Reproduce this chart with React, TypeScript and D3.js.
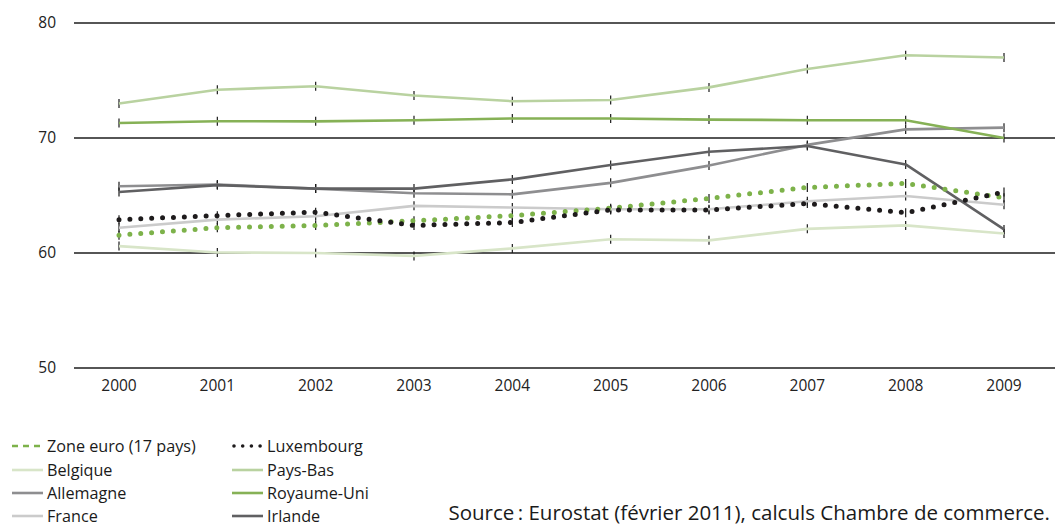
import { useEffect, useRef } from "react";
import * as d3 from "d3";

const years = ["2000", "2001", "2002", "2003", "2004", "2005", "2006", "2007", "2008", "2009"];
const yTicks = [50, 60, 70, 80];

const zoneEuro = [61.55, 62.2, 62.4, 62.8, 63.25, 63.9, 64.75, 65.7, 66.05, 64.8];
const luxembourg = [62.9, 63.25, 63.55, 62.4, 62.65, 63.75, 63.75, 64.3, 63.5, 65.3];
const belgique = [60.6, 60.05, 60.0, 59.75, 60.4, 61.2, 61.1, 62.1, 62.4, 61.7];
const paysBas = [73.0, 74.2, 74.5, 73.7, 73.2, 73.3, 74.4, 76.0, 77.2, 77.0];
const allemagne = [65.8, 65.95, 65.6, 65.2, 65.1, 66.1, 67.6, 69.4, 70.75, 70.9];
const royaumeUni = [71.3, 71.45, 71.45, 71.55, 71.7, 71.7, 71.6, 71.55, 71.55, 70.0];
const france = [62.2, 62.9, 63.2, 64.1, 63.95, 63.8, 63.8, 64.5, 64.95, 64.2];
const irlande = [65.3, 65.9, 65.6, 65.6, 66.4, 67.65, 68.8, 69.3, 67.7, 62.05];

type Kind = "solid" | "dots" | "dashdots";
interface Series {
  name: string;
  values: number[];
  color: string;
  kind: Kind;
}

const series: Series[] = [
  { name: "Belgique", values: belgique, color: "#d8e5c8", kind: "solid" },
  { name: "France", values: france, color: "#cbcbcb", kind: "solid" },
  { name: "Allemagne", values: allemagne, color: "#8e8e90", kind: "solid" },
  { name: "Irlande", values: irlande, color: "#606062", kind: "solid" },
  { name: "Pays-Bas", values: paysBas, color: "#b9d2a0", kind: "solid" },
  { name: "Royaume-Uni", values: royaumeUni, color: "#86b156", kind: "solid" },
  { name: "Zone euro (17 pays)", values: zoneEuro, color: "#7db24a", kind: "dashdots" },
  { name: "Luxembourg", values: luxembourg, color: "#1e1b1c", kind: "dots" },
];

const legendLeft = ["Zone euro (17 pays)", "Belgique", "Allemagne", "France"];
const legendRight = ["Luxembourg", "Pays-Bas", "Royaume-Uni", "Irlande"];

const W = 1055;
const H = 526;
const font = "'Open Sans', 'DejaVu Sans', sans-serif";

const App = () => {
  const ref = useRef<SVGSVGElement | null>(null);

  useEffect(() => {
    if (!ref.current) return;
    const svg = d3.select(ref.current);
    svg.selectAll("*").remove();

    const x = d3.scalePoint<string>().domain(years).range([119, 1004]);
    const y = d3.scaleLinear().domain([50, 80]).range([368, 23]);

    // gridlines
    svg
      .append("g")
      .selectAll("line")
      .data(yTicks)
      .enter()
      .append("line")
      .attr("x1", 74)
      .attr("x2", W)
      .attr("y1", (d) => y(d))
      .attr("y2", (d) => y(d))
      .attr("stroke", "#1e1e1e")
      .attr("stroke-width", 1.3);

    svg
      .append("g")
      .selectAll("text")
      .data(yTicks)
      .enter()
      .append("text")
      .attr("x", 56)
      .attr("y", (d) => y(d))
      .attr("dy", "0.35em")
      .attr("text-anchor", "end")
      .attr("font-family", font)
      .attr("font-size", 15.5)
      .attr("fill", "#222")
      .text((d) => d);

    svg
      .append("g")
      .selectAll("text")
      .data(years)
      .enter()
      .append("text")
      .attr("x", (d) => x(d)!)
      .attr("y", 386)
      .attr("dy", "0.35em")
      .attr("text-anchor", "middle")
      .attr("font-family", font)
      .attr("font-size", 15.5)
      .attr("fill", "#222")
      .text((d) => d);

    // point markers (drawn under the lines)
    const markers = svg.append("g");
    series.forEach((s) => {
      markers
        .selectAll(null)
        .data(s.values)
        .enter()
        .append("line")
        .attr("x1", (_, i) => x(years[i])!)
        .attr("x2", (_, i) => x(years[i])!)
        .attr("y1", (d) => y(d) - 4.5)
        .attr("y2", (d) => y(d) + 4.5)
        .attr("stroke", "#1a1a1a")
        .attr("stroke-width", 1.2);
    });

    const line = d3
      .line<number>()
      .x((_, i) => x(years[i])!)
      .y((d) => y(d));

    series.forEach((s) => {
      const p = svg
        .append("path")
        .attr("d", line(s.values))
        .attr("fill", "none")
        .attr("stroke", s.color);
      if (s.kind === "solid") {
        p.attr("stroke-width", 2.6).attr("stroke-linejoin", "round");
      } else {
        p.attr("stroke-width", 5)
          .attr("stroke-linecap", "round")
          .attr("stroke-dasharray", "0 10.9");
      }
    });

    // legend
    const rowY = [446, 470, 493, 516];
    const drawLegend = (names: string[], x0: number) => {
      names.forEach((n, i) => {
        const s = series.find((d) => d.name === n)!;
        const g = svg.append("g");
        const ly = rowY[i];
        if (s.kind === "solid") {
          g.append("line")
            .attr("x1", x0)
            .attr("x2", x0 + 31)
            .attr("y1", ly)
            .attr("y2", ly)
            .attr("stroke", s.color)
            .attr("stroke-width", 2.6);
        } else if (s.kind === "dashdots") {
          g.append("line")
            .attr("x1", x0)
            .attr("x2", x0 + 31)
            .attr("y1", ly)
            .attr("y2", ly)
            .attr("stroke", s.color)
            .attr("stroke-width", 2.6)
            .attr("stroke-dasharray", "6 5");
        } else {
          g.append("line")
            .attr("x1", x0 + 2)
            .attr("x2", x0 + 31)
            .attr("y1", ly)
            .attr("y2", ly)
            .attr("stroke", s.color)
            .attr("stroke-width", 3.6)
            .attr("stroke-linecap", "round")
            .attr("stroke-dasharray", "0 8.7");
        }
        g.append("text")
          .attr("x", x0 + 35)
          .attr("y", ly)
          .attr("dy", "0.35em")
          .attr("font-family", font)
          .attr("font-size", 16.2)
          .attr("fill", "#1a1a1a")
          .text(n);
      });
    };
    drawLegend(legendLeft, 12);
    drawLegend(legendRight, 232);

    svg
      .append("text")
      .attr("x", 1050)
      .attr("y", 513)
      .attr("dy", "0.35em")
      .attr("text-anchor", "end")
      .attr("font-family", font)
      .attr("font-size", 20.5)
      .attr("fill", "#1a1a1a")
      .text("Source\u2009: Eurostat (février 2011), calculs Chambre de commerce.");
  }, []);

  return (
    <svg
      ref={ref}
      width={W}
      height={H}
      style={{ position: "absolute", left: 0, top: 0, background: "#fff" }}
    ></svg>
  );
};

export default App;
